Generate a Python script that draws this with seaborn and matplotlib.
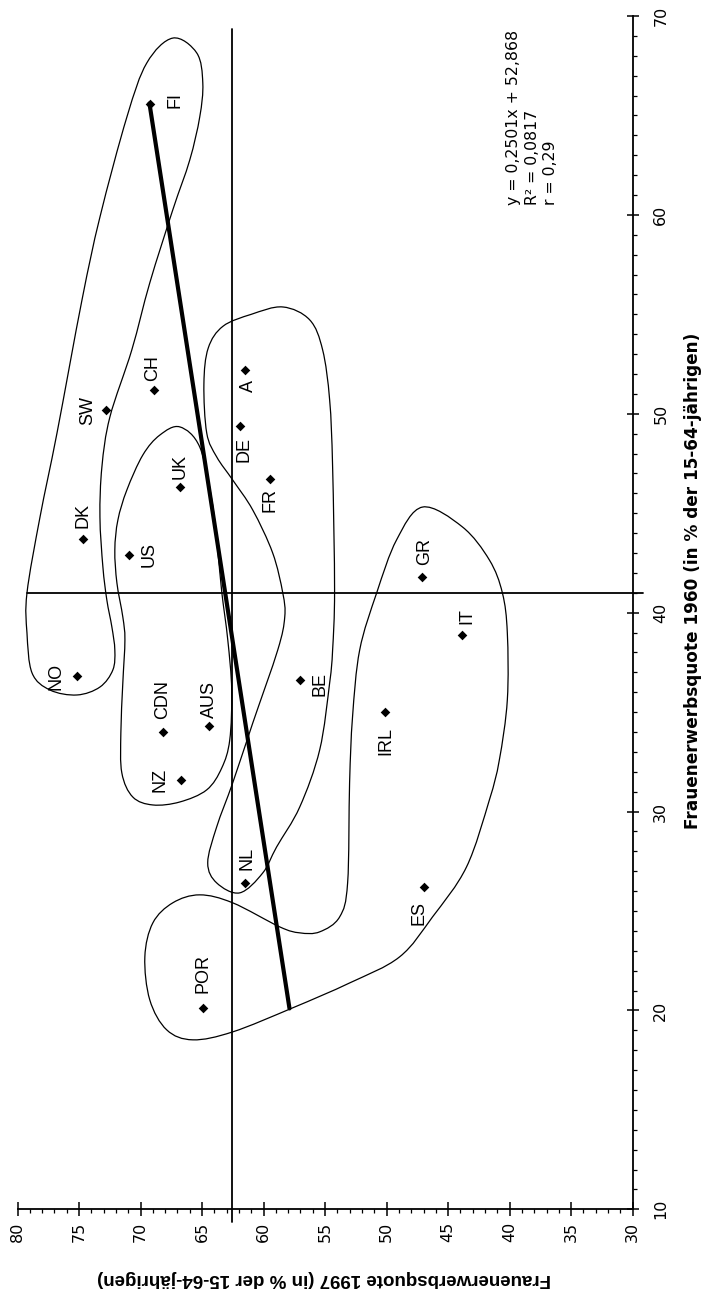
import numpy as np
import pandas as pd
import matplotlib
matplotlib.use('Agg')
import matplotlib.pyplot as plt
import seaborn as sns
from matplotlib.path import Path
from matplotlib.patches import PathPatch
from matplotlib.ticker import MultipleLocator

# Daten
laender = ['FI', 'NO', 'DK', 'SW', 'CH', 'US', 'UK', 'DE', 'A', 'FR',
           'GR', 'IT', 'BE', 'IRL', 'CDN', 'AUS', 'NZ', 'NL', 'ES', 'POR']
quote_1960 = [65.6, 36.8, 43.7, 50.2, 51.2, 42.9, 46.3, 49.4, 52.2, 46.7,
              41.8, 38.9, 36.6, 35.0, 34.0, 34.3, 31.6, 26.4, 26.2, 20.1]
quote_1997 = [69.2, 75.2, 74.7, 72.8, 68.9, 70.9, 66.8, 61.9, 61.5, 59.5,
              47.1, 43.9, 57.0, 50.1, 68.2, 64.4, 66.7, 61.5, 47.0, 64.9]

steigung = 0.2501
achsenabschnitt = 52.868
mittel_1960 = 41.0
mittel_1997 = 62.6

df = pd.DataFrame({'land': laender, 'q1960': quote_1960, 'q1997': quote_1997})

# Beschriftungs-Versatz (Pixel) je Land
versatz = {'FI': (25, 4), 'CH': (-1, 22), 'SW': (-18, -1), 'DK': (0, 24),
           'US': (20, 0), 'UK': (0, 21), 'DE': (4, -24), 'A': (3, -16),
           'FR': (0, -21), 'NO': (-21, 0), 'BE': (20, -4), 'GR': (2, 25),
           'IT': (5, 18), 'CDN': (0, 32), 'AUS': (0, 27), 'NZ': (-21, 0),
           'IRL': (0, -29), 'NL': (2, 25), 'ES': (-5, -26), 'POR': (0, 35)}

# Handgezeichnete Gruppen-Umrisse (1997, 1960)
umriss_nord = [(67.38, 68.89), (65.43, 68.14), (64.94, 66.63), (65.19, 64.92), (66.00, 62.76),
               (67.38, 60.25), (69.25, 56.58), (70.71, 53.21), (72.49, 49.84), (73.14, 47.33),
               (73.30, 44.81), (73.06, 42.30), (72.74, 40.64), (72.33, 39.28), (72.09, 38.12),
               (72.25, 37.12), (73.30, 36.26), (75.17, 35.86), (77.36, 36.11), (78.82, 36.97),
               (79.23, 38.98), (79.23, 40.99), (78.17, 44.81), (76.79, 49.03), (74.76, 55.72),
               (73.30, 59.89), (71.11, 64.92), (69.49, 67.64)]
umriss_anglo = [(66.81, 49.34), (65.19, 48.33), (64.21, 45.67), (63.73, 43.15), (63.40, 41.04),
                (62.91, 38.63), (62.59, 36.11), (62.75, 33.60), (63.40, 32.19), (64.62, 31.09),
                (66.81, 30.48), (69.00, 30.33), (70.63, 30.73), (71.52, 31.94), (71.60, 33.95),
                (71.44, 36.47), (71.27, 38.63), (71.44, 39.78), (71.92, 41.49), (72.09, 43.15),
                (71.84, 44.66), (71.11, 46.17), (69.81, 47.93), (68.43, 48.93)]
umriss_kontinent = [(58.44, 55.37), (56.25, 54.72), (55.20, 53.21), (54.63, 50.69), (54.39, 47.33),
                    (54.23, 41.14), (54.39, 38.12), (54.63, 36.47), (55.44, 33.10), (57.06, 30.23),
                    (58.94, 28.22), (60.07, 26.91), (61.94, 25.91), (63.81, 26.41), (64.54, 27.42),
                    (63.81, 29.23), (62.51, 31.44), (60.88, 34.45), (58.85, 38.12), (58.28, 39.78),
                    (58.44, 40.99), (59.26, 43.00), (60.88, 45.16), (62.51, 46.67), (63.81, 47.83),
                    (64.62, 49.03), (64.85, 51.50), (64.50, 53.30), (63.30, 54.40), (61.00, 55.00)]
umriss_sued = [(47.08, 45.31), (43.84, 44.31), (41.65, 42.65), (40.59, 40.99), (40.19, 38.98),
               (40.19, 35.61), (40.84, 32.59), (41.65, 30.58), (43.51, 27.21), (46.27, 24.70),
               (48.95, 22.69), (53.01, 21.38), (57.63, 20.13), (62.51, 18.92), (65.75, 18.52),
               (67.87, 19.02), (69.25, 20.53), (69.65, 22.69), (69.00, 24.40), (67.38, 25.41),
               (65.19, 25.81), (62.51, 25.41), (58.69, 24.20), (57.06, 23.90), (55.44, 23.95),
               (53.82, 24.70), (53.17, 26.41), (53.01, 31.44), (52.77, 34.76), (52.19, 38.12),
               (50.81, 40.99), (49.19, 43.66)]


def glatter_umriss(punkte):
    # geschlossene Catmull-Rom-Kurve als Bezier-Pfad
    p = np.array(punkte)
    n = len(p)
    verts = [p[0]]
    codes = [Path.MOVETO]
    for i in range(n):
        p0, p1, p2, p3 = p[i - 1], p[i], p[(i + 1) % n], p[(i + 2) % n]
        verts += [p1 + (p2 - p0) / 6, p2 - (p3 - p1) / 6, p2]
        codes += [Path.CURVE4] * 3
    return Path(verts, codes)


sns.set_style('white')
plt.rcParams['font.family'] = ['DejaVu Sans']
for key in ['text.color', 'axes.labelcolor', 'xtick.color', 'ytick.color', 'axes.edgecolor']:
    plt.rcParams[key] = 'black'

fig = plt.figure(figsize=(7.08, 12.91), dpi=100)
ax = fig.add_axes([0.02472, 0.06329, 0.86893, 0.92432])

for umriss in [umriss_nord, umriss_anglo, umriss_kontinent, umriss_sued]:
    ax.add_patch(PathPatch(glatter_umriss(umriss), facecolor='none', edgecolor='black', lw=0.9))

# Mittelwert-Linien
ax.axhline(mittel_1960, xmin=0.015, xmax=1.017, color='black', lw=1.3, clip_on=False)
ax.axvline(mittel_1997, ymin=-0.011, ymax=0.989, color='black', lw=1.3, clip_on=False)

# Regressionsgerade
x_reg = np.array([df.q1960.min(), df.q1960.max()])
reg = pd.DataFrame({'q1960': x_reg, 'q1997': steigung * x_reg + achsenabschnitt})
sns.lineplot(data=reg, x='q1997', y='q1960', sort=False, estimator=None,
             color='black', lw=3, ax=ax)

sns.scatterplot(data=df, x='q1997', y='q1960', marker='D', s=24, color='black',
                linewidth=0, ax=ax, zorder=5)

for land, x, y in zip(df.land, df.q1997, df.q1960):
    ax.annotate(land, xy=(x, y), xytext=versatz[land], textcoords='offset pixels',
                rotation=90, ha='center', va='center', fontsize=13,
                family='Liberation Sans', color='black')

ax.text(40.3, 60.5, 'y = 0,2501x + 52,868\nR² = 0,0817\nr = 0,29', rotation=90,
        ha='left', va='bottom', multialignment='left', fontsize=11.3, linespacing=1.3,
        color='black')

# Achsen
ax.set_xlim(80, 30)
ax.set_ylim(10, 70)
ax.yaxis.tick_right()
ax.yaxis.set_label_position('right')
ax.xaxis.set_major_locator(MultipleLocator(5))
ax.xaxis.set_minor_locator(MultipleLocator(1))
ax.yaxis.set_major_locator(MultipleLocator(10))
ax.yaxis.set_minor_locator(MultipleLocator(1))
for s in ['top', 'left']:
    ax.spines[s].set_visible(False)
for s in ['bottom', 'right']:
    ax.spines[s].set_linewidth(1.3)
    ax.spines[s].set_color('black')

ax.tick_params(axis='x', which='major', direction='inout', length=9.4, width=1.1,
               pad=4.0, labelsize=11.5, labelrotation=90, bottom=True)
ax.tick_params(axis='y', which='major', direction='inout', length=8.6, width=1.1,
               pad=10.5, labelsize=11.5, labelrotation=90, right=True, left=False)
ax.tick_params(which='minor', direction='out', length=3, width=0.9)
ax.tick_params(axis='y', which='minor', right=True, left=False)
ax.tick_params(axis='x', which='minor', bottom=True)
plt.setp(ax.get_yticklabels(), va='center')

ax.set_xlabel('')
ax.set_ylabel('')
fig.text(324.5 / 708, 1 - 1279 / 1291, 'Frauenerwerbsquote 1997 (in % der 15-64-jährigen)',
         rotation=180, ha='center', va='center', fontsize=13.5, fontweight='bold',
         family='Liberation Sans', color='black')
fig.text(693 / 708, 1 - 580.5 / 1291, 'Frauenerwerbsquote 1960 (in % der 15-64-jährigen)',
         rotation=90, ha='center', va='center', fontsize=12.2, fontweight='bold',
         color='black')

fig.savefig('out.png', dpi=100)
